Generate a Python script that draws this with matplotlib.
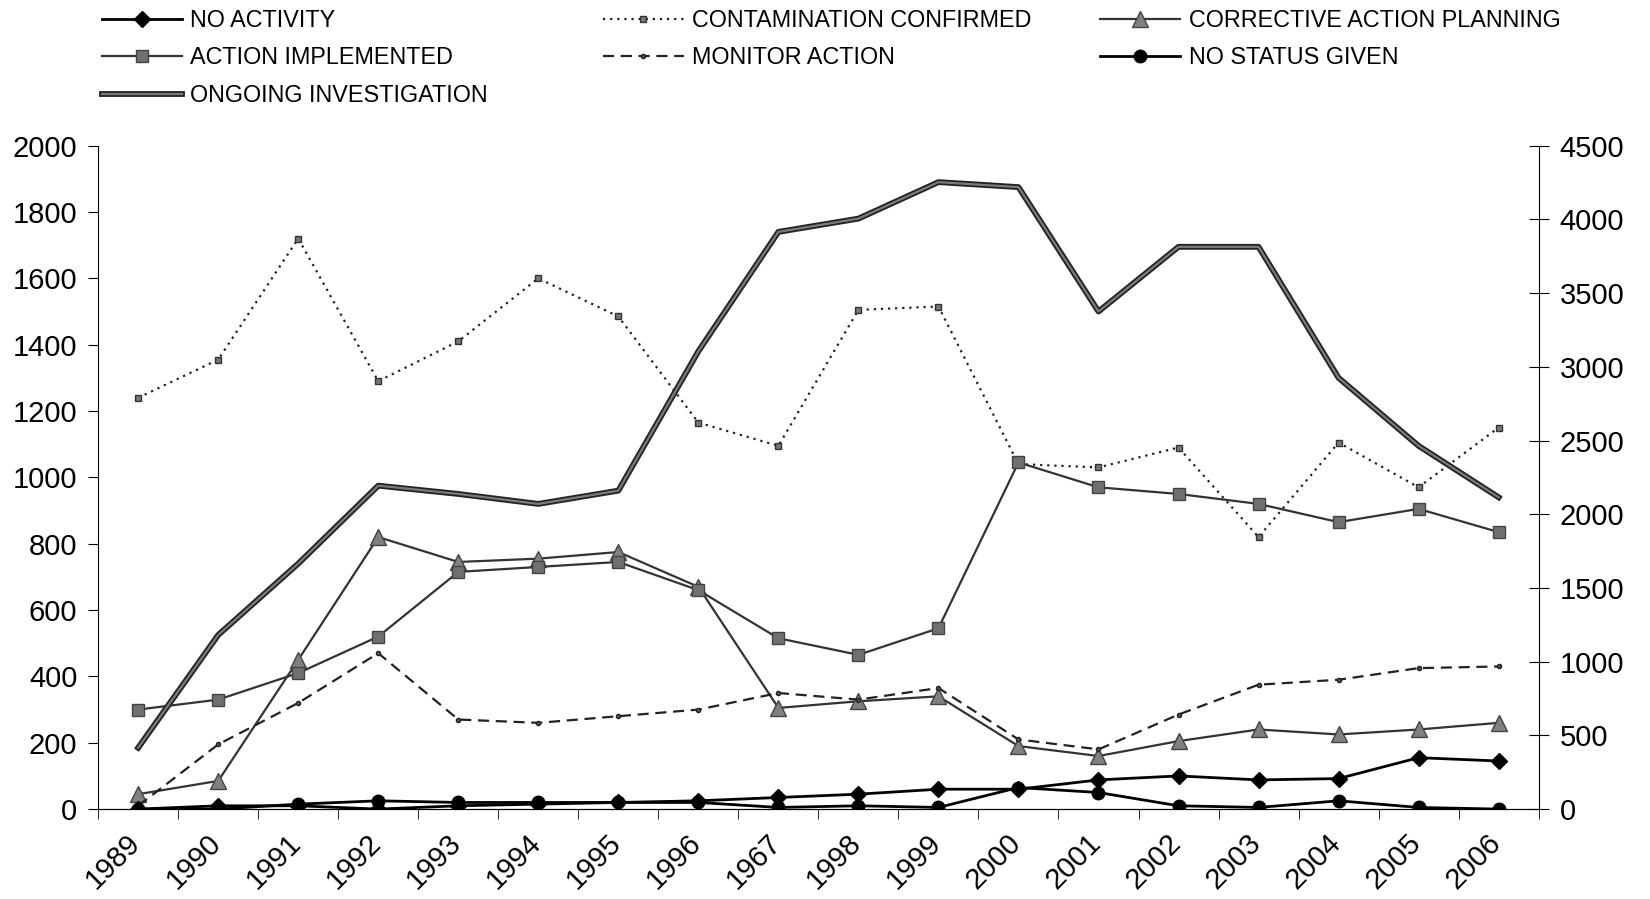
import numpy as np
import matplotlib
matplotlib.use('Agg')
import matplotlib.pyplot as plt
import matplotlib.transforms as mtransforms
import matplotlib.patheffects as pe

plt.rcParams['font.family'] = ['Liberation Sans', 'DejaVu Sans']

years = ['1989', '1990', '1991', '1992', '1993', '1994', '1995', '1996', '1967',
         '1998', '1999', '2000', '2001', '2002', '2003', '2004', '2005', '2006']

no_activity = [0, 10, 10, 0, 10, 15, 20, 25, 35, 45, 60, 60, 88, 100, 88, 92, 155, 145]
contamination = [1240, 1355, 1720, 1290, 1410, 1600, 1485, 1165, 1095, 1505, 1515,
                 1040, 1030, 1090, 820, 1105, 970, 1150]
corrective = [45, 85, 450, 820, 745, 755, 775, 670, 305, 325, 340, 190, 160, 205,
              240, 225, 240, 260]
implemented = [300, 330, 410, 520, 715, 730, 745, 660, 515, 465, 545, 1045, 970,
               950, 920, 865, 905, 835]
monitor = [10, 195, 320, 470, 270, 260, 280, 300, 350, 330, 365, 210, 180, 285,
           375, 390, 425, 430]
no_status = [0, 0, 15, 25, 20, 20, 20, 20, 5, 10, 5, 65, 50, 10, 5, 25, 5, 0]
ongoing = [185, 525, 740, 975, 950, 920, 960, 1380, 1740, 1780, 1890, 1875, 1500,
           1695, 1695, 1300, 1095, 940]

fig = plt.figure(figsize=(16.5, 8.99), dpi=100)
ax = fig.add_axes([0.0595, 0.100, 0.873, 0.738])
x = np.arange(len(years))

h_na, = ax.plot(x, no_activity, color='black', lw=2, marker='D', ms=8,
                label='NO ACTIVITY', zorder=5)
h_cc, = ax.plot(x, contamination, color='#222222', lw=1.6, ls=(0, (1, 2.2)),
                marker='s', ms=5, mfc='#777777', mec='#333333',
                label='CONTAMINATION CONFIRMED')
h_cp, = ax.plot(x, corrective, color='#333333', lw=1.6, marker='^', ms=11,
                mfc='#808080', mec='#444444', label='CORRECTIVE ACTION PLANNING')
h_ai, = ax.plot(x, implemented, color='#333333', lw=1.6, marker='s', ms=9,
                mfc='#707070', mec='#444444', label='ACTION IMPLEMENTED')
h_ma, = ax.plot(x, monitor, color='#222222', lw=1.6, ls=(0, (5, 3)),
                marker='o', ms=3, mfc='#555555', label='MONITOR ACTION')
h_ns, = ax.plot(x, no_status, color='black', lw=2, marker='o', ms=9,
                label='NO STATUS GIVEN', zorder=5)
h_oi, = ax.plot(x, ongoing, color='#7a7a7a', lw=1.6, label='ONGOING INVESTIGATION',
                path_effects=[pe.Stroke(linewidth=4.2, foreground='#222222'), pe.Normal()])

ax.set_xlim(-0.5, len(years) - 0.5)
ax.set_ylim(0, 2000)
ax.set_yticks(np.arange(0, 2001, 200))
ax.tick_params(axis='y', labelsize=21, length=7, direction='out', pad=8)
ax.set_xticks(x)
ax.set_xticklabels(years, rotation=45, ha='right', fontsize=21)
ax.set_xticks(np.arange(-0.5, len(years), 1), minor=True)
ax.tick_params(axis='x', which='major', length=0, pad=14)
ax.tick_params(axis='x', which='minor', length=7, direction='out')
offset = mtransforms.ScaledTranslation(0.08, 0, fig.dpi_scale_trans)
for lab in ax.get_xticklabels():
    lab.set_transform(lab.get_transform() + offset)
ax.spines['top'].set_visible(False)
ax.spines['right'].set_visible(False)

ax2 = ax.twinx()
ax2.set_ylim(0, 4500)
ax2.set_yticks(np.arange(0, 4501, 500))
ax2.tick_params(axis='y', labelsize=21, length=14, direction='inout', pad=8)
ax2.spines['top'].set_visible(False)
ax2.spines['left'].set_visible(False)

common = dict(frameon=False, fontsize=16.8, handlelength=3.45, handletextpad=0.36,
              labelspacing=0.62, borderpad=0, numpoints=1, loc='upper left')
fig.legend([h_na, h_ai, h_oi], [h.get_label() for h in (h_na, h_ai, h_oi)],
           bbox_to_anchor=(0.0545, 1.003), **common)
fig.legend([h_cc, h_ma], [h.get_label() for h in (h_cc, h_ma)],
           bbox_to_anchor=(0.3585, 1.003), **common)
fig.legend([h_cp, h_ns], [h.get_label() for h in (h_cp, h_ns)],
           bbox_to_anchor=(0.6595, 1.003), **common)

fig.savefig('out.png', dpi=100)
